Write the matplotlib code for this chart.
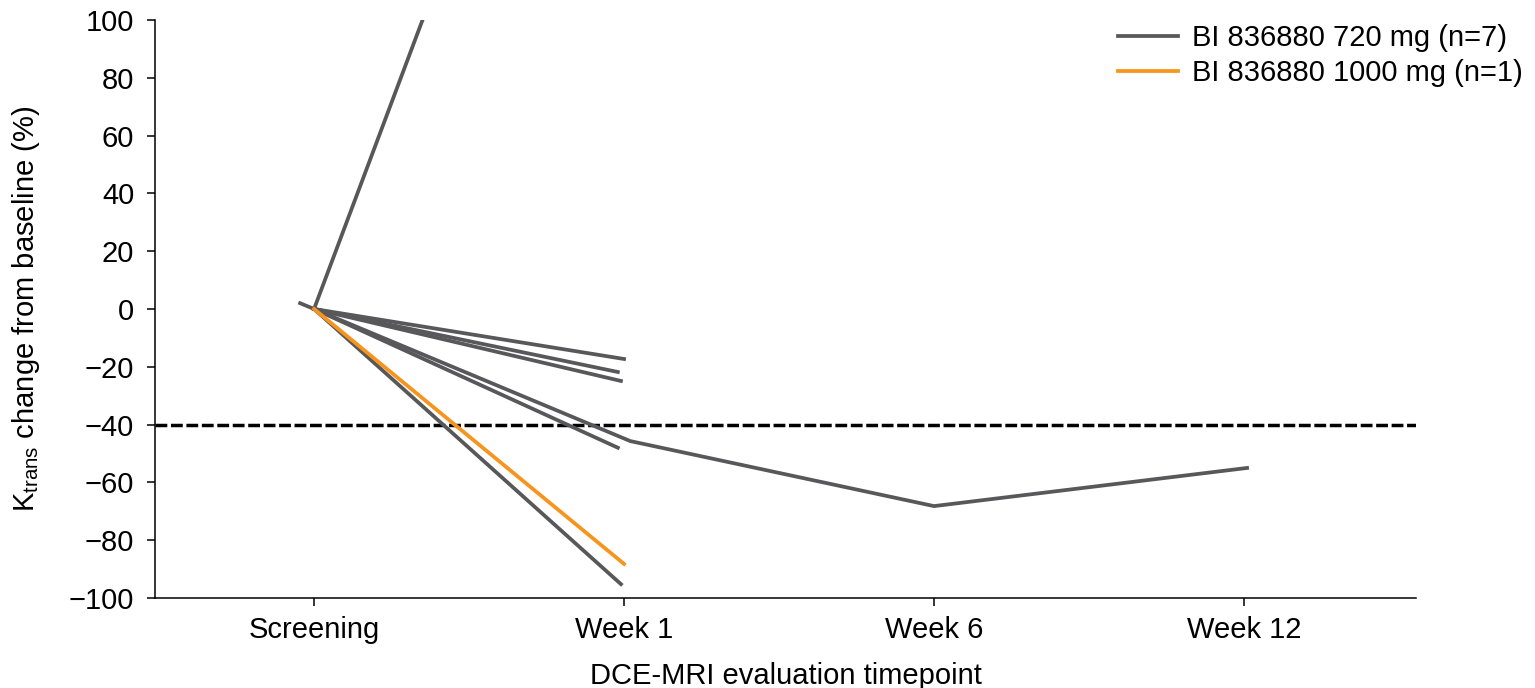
import matplotlib
matplotlib.use("Agg")
import matplotlib.pyplot as plt

plt.rcParams['font.family'] = ['Liberation Sans', 'DejaVu Sans']

timepoints = ["Screening", "Week 1", "Week 6", "Week 12"]

# 720 mg patients: (x position on the timepoint axis, % change)
patient_x = [
    [0, 0.35],
    [0, 1.0],
    [0, 0.98],
    [0, 0.99],
    [-0.045, 0, 0.98],
    [0, 1.02, 2.0, 3.01],
    [0, 0.99],
]
patient_y = [
    [0, 100],
    [0, -17.3],
    [0, -21.8],
    [0, -24.9],
    [2, 0, -48],
    [0, -45.7, -68.2, -55.0],
    [0, -95.2],
]

# 1000 mg patient
high_x = [0, 1.0]
high_y = [0, -88.2]

threshold = -40

gray = "#58585a"
orange = "#f7941d"
fs = 21

fig = plt.figure(figsize=(15.35, 6.88), dpi=100)
ax = fig.add_axes([0.101, 0.1308, 0.8215, 0.8402])

for i in range(len(patient_x)):
    ax.plot(patient_x[i], patient_y[i], color=gray, lw=2.7,
            label="BI 836880 720 mg (n=7)" if i == 0 else None, zorder=3)
ax.plot(high_x, high_y, color=orange, lw=2.7, label="BI 836880 1000 mg (n=1)", zorder=4)

ax.axhline(threshold, color="black", lw=2.5, dashes=(3.4, 1.05), zorder=2)

ax.set_xlim(-0.513, 3.555)
ax.set_ylim(-100, 100)
ax.set_xticks(range(len(timepoints)))
ax.set_xticklabels(timepoints)
ax.set_yticks(range(-100, 101, 20))
ax.set_yticklabels([str(v).replace("-", "\u2212") for v in range(-100, 101, 20)])

for side in ["top", "right"]:
    ax.spines[side].set_visible(False)
for side in ["left", "bottom"]:
    ax.spines[side].set_linewidth(1.1)
ax.tick_params(axis="both", labelsize=fs, length=6, width=1.1)
ax.tick_params(axis="y", pad=9)
ax.tick_params(axis="x", pad=7)

ax.set_xlabel("DCE-MRI evaluation timepoint", fontsize=fs, labelpad=13)
ax.set_ylabel(r"$\mathregular{K_{trans}}$ change from baseline (%)", fontsize=fs, labelpad=19)

fig.legend(loc="upper left", bbox_to_anchor=(1118 / 1535, 1 - 24 / 688), frameon=False,
           fontsize=fs, handlelength=2.05, handletextpad=0.5, borderpad=0, borderaxespad=0,
           labelspacing=0.25)

fig.savefig("out.png", dpi=100)
